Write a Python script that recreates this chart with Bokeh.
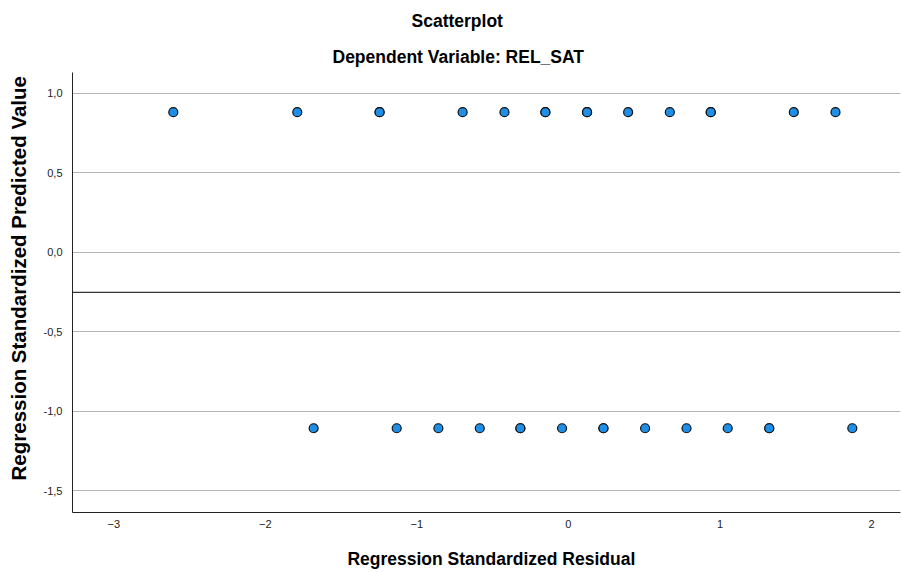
from bokeh.plotting import figure
from bokeh.models import Range1d, FixedTicker, CustomJSTickFormatter, Span, Title, ColumnDataSource
from bokeh.embed import file_html
from bokeh.resources import INLINE

# Data (residual, predicted value)
top_resid = [-2.607, -1.789, -1.246, -1.246, -0.698, -0.422, -0.152, -0.152, 0.123, 0.123,
             0.394, 0.669, 0.939, 0.939, 1.487, 1.762]
top_pred = [0.882] * len(top_resid)
bot_resid = [-1.681, -1.133, -0.858, -0.585, -0.317, -0.317, -0.042, 0.231, 0.231, 0.506,
             0.779, 1.051, 1.325, 1.325, 1.873]
bot_pred = [-1.108] * len(bot_resid)
x_ticks = [-3, -2, -1, 0, 1, 2]
y_ticks = [-1.5, -1.0, -0.5, 0.0, 0.5, 1.0]
ref_line = -0.252

resid = top_resid + bot_resid
pred = top_pred + bot_pred
src = ColumnDataSource(dict(x=resid, y=pred))

FONT = "Liberation Sans"
NB = "\u00a0"

p = figure(width=901, height=572, output_backend="svg", toolbar_location=None,
           x_range=Range1d(-3.272, 2.191), y_range=Range1d(-1.6385, 1.132),
           min_border_left=72, min_border_right=1, min_border_bottom=60, min_border_top=0)
p.outline_line_color = None
p.background_fill_color = "white"

t2 = Title(text="Dependent Variable: REL_SAT", align="left", text_font=FONT,
           text_font_size="17.5px", text_font_style="bold", text_color="black",
           standoff=12, offset=260)
t1 = Title(text="Scatterplot", align="left", text_font=FONT,
           text_font_size="17.5px", text_font_style="bold", text_color="black",
           standoff=16, offset=339)
p.add_layout(t2, "above")
p.add_layout(t1, "above")

p.xgrid.grid_line_color = None
p.ygrid.grid_line_color = "#b4b4b4"
p.ygrid.grid_line_width = 1
p.ygrid.ticker = FixedTicker(ticks=y_ticks)

p.xaxis.ticker = FixedTicker(ticks=x_ticks)
p.yaxis.ticker = FixedTicker(ticks=y_ticks)
p.yaxis.formatter = CustomJSTickFormatter(code="return tick.toFixed(1).replace('.', ',');")

for ax in (p.xaxis[0], p.yaxis[0]):
    ax.major_tick_line_color = None
    ax.minor_tick_line_color = None
    ax.major_tick_out = 0
    ax.major_tick_in = 0
    ax.minor_tick_out = 0
    ax.minor_tick_in = 0
    ax.axis_line_color = "#222222"
    ax.axis_line_width = 1
    ax.major_label_text_font = FONT
    ax.major_label_text_font_size = "11px"
    ax.major_label_text_color = "#222222"
    ax.axis_label_text_font = FONT
    ax.axis_label_text_font_style = "bold"
    ax.axis_label_text_color = "black"

p.xaxis.axis_label = NB * 2 + "Regression Standardized Residual"
p.yaxis.axis_label = NB * 5 + "Regression Standardized Predicted Value"
p.xaxis.axis_label_text_font_size = "17.5px"
p.yaxis.axis_label_text_font_size = "20.5px"
p.xaxis.major_label_standoff = 7
p.xaxis.axis_label_standoff = 18
p.yaxis.major_label_standoff = 10
p.yaxis.axis_label_standoff = 11

p.add_layout(Span(location=ref_line, dimension="width", line_color="black", line_width=1))

p.scatter("x", "y", source=src, size=9, fill_color="#1e8ee6", line_color="#111111",
          line_width=1.2)

open("out.html", "w").write(file_html(p, INLINE))
